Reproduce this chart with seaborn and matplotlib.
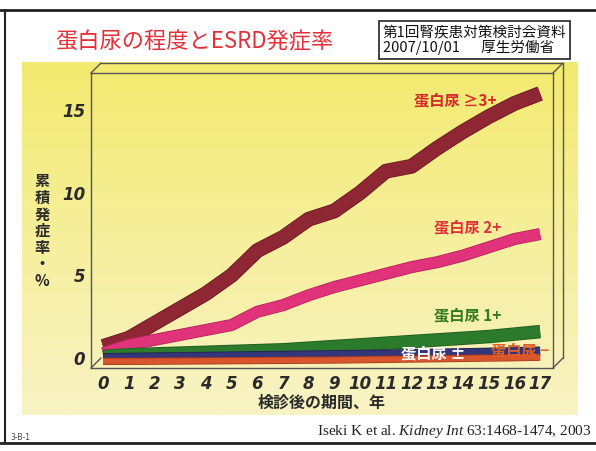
import matplotlib
matplotlib.use('Agg')
import matplotlib.pyplot as plt
from matplotlib.lines import Line2D
import matplotlib.patheffects as pe
import numpy as np
import pandas as pd
import seaborn as sns

# cumulative ESRD incidence (%) by proteinuria grade
years = list(range(18))
ge3 = [0.7, 1.2, 2.1, 3.0, 3.9, 5.0, 6.5, 7.3, 8.4, 8.9, 10.0, 11.3, 11.6, 12.7, 13.7, 14.6, 15.4, 16.0]
p2 = [0.3, 0.8, 1.1, 1.4, 1.7, 2.0, 2.8, 3.2, 3.8, 4.3, 4.7, 5.1, 5.5, 5.8, 6.2, 6.7, 7.2, 7.5]
p1 = [0.1, 0.2, 0.25, 0.3, 0.35, 0.4, 0.45, 0.5, 0.6, 0.7, 0.8, 0.9, 1.0, 1.1, 1.2, 1.3, 1.45, 1.6]
pm = [0.0, 0.02, 0.04, 0.06, 0.08, 0.1, 0.12, 0.14, 0.16, 0.18, 0.2, 0.22, 0.25, 0.28, 0.3, 0.33, 0.36, 0.4]
neg = [-0.2, -0.2, -0.19, -0.18, -0.17, -0.16, -0.15, -0.14, -0.13, -0.12, -0.1, -0.08, -0.06, -0.04, -0.02, 0.0, 0.02, 0.05]

groups = ['≥3+', '2+', '1+', '±', '−']
colors = {'≥3+': '#8e2733', '2+': '#e0337a', '1+': '#2c7a2c', '±': '#34357a', '−': '#d9562c'}
edges = {'≥3+': '#6a1824', '2+': '#b82060', '1+': '#1d5a1d', '±': '#22234f', '−': '#a83a18'}
widths = {'≥3+': 9.5, '2+': 7.5, '1+': 8.5, '±': 6, '−': 4}

rows = []
for g, vals in zip(groups, [ge3, p2, p1, pm, neg]):
    for yr, v in zip(years, vals):
        rows.append({'year': yr, 'rate': v, 'grade': g})
df = pd.DataFrame(rows)

sns.set_style('white')
plt.rcParams['font.family'] = ['Noto Sans CJK JP', 'DejaVu Sans']

W, H = 596, 451
fig = plt.figure(figsize=(W / 100, H / 100), dpi=100)
fig.patch.set_facecolor('white')

def fx(x):
    return x / W

def fy(y):
    return 1 - y / H

# yellow background panel
bg = fig.add_axes([fx(22), fy(415), fx(578) - fx(22), fy(62) - fy(415)])
grad = np.linspace(0, 1, 256).reshape(-1, 1)
cmap = matplotlib.colors.LinearSegmentedColormap.from_list('yl', ['#f2ea6e', '#f6ef9c', '#f8f3c4'])
bg.imshow(grad, aspect='auto', cmap=cmap, extent=[0, 1, 0, 1], origin='upper')
bg.set_axis_off()

ax = fig.add_axes([fx(91), fy(368), fx(553) - fx(91), fy(73) - fy(368)])
ax.patch.set_alpha(0)
sns.lineplot(data=df, x='year', y='rate', hue='grade', hue_order=groups,
             palette=colors, ax=ax, legend=False, sort=False)
for line, g in zip(ax.get_lines(), groups):
    line.set_linewidth(widths[g])
    line.set_solid_capstyle('butt')
    line.set_solid_joinstyle('round')
    line.set_path_effects([pe.Stroke(linewidth=widths[g] + 1.2, foreground=edges[g]), pe.Normal()])

ax.set_xlim(-0.47, 17.5)
ax.set_ylim(-0.6, 17.24)
ax.set_xticks(years)
ax.set_yticks([0, 5, 10, 15])
ax.set_xticklabels([str(y) for y in years], family='DejaVu Sans', fontweight='bold',
                   style='italic', fontsize=12, color='#2a2a2a')
ax.set_yticklabels(['0', '5', '10', '15'], family='DejaVu Sans', fontweight='bold',
                   style='italic', fontsize=12, color='#2a2a2a')
ax.tick_params(axis='both', direction='out', length=3, width=0.8, color='#444444')
ax.tick_params(axis='x', pad=2)
ax.tick_params(axis='y', pad=1)
for s in ax.spines.values():
    s.set_color('#555555')
    s.set_linewidth(1.0)
ax.set_xlabel('検診後の期間、年', fontsize=11.5, fontweight='bold', color='#2a2a2a', labelpad=1)
ax.set_ylabel('')

# 3D box back edges
box = [((91, 73), (101, 63)), ((101, 63), (563, 63)), ((553, 73), (563, 63)),
       ((563, 63), (563, 358)), ((553, 368), (563, 358)), ((91, 368), (101, 358))]
for (x0, y0), (x1, y1) in box:
    fig.add_artist(Line2D([fx(x0), fx(x1)], [fy(y0), fy(y1)], color='#555555', lw=1.0))

# vertical y label
fig.text(fx(42), fy(231), '\n'.join('累積発症率・%'), fontsize=11, fontweight='bold',
         color='#2a2a2a', ha='center', va='center', linespacing=1.05)

# series labels
lab = dict(fontsize=11, fontweight='bold')
ax.text(15.3, 15.6, '蛋白尿 ≥3+', color='#d42a2a', ha='right', va='center', **lab)
ax.text(15.5, 7.9, '蛋白尿 2+', color='#e2303a', ha='right', va='center', **lab)
ax.text(15.5, 2.6, '蛋白尿 1+', color='#2f7a1f', ha='right', va='center', **lab)
ax.text(11.6, 0.3, '蛋白尿 ±', color='white', ha='left', va='center', **lab)
ax.text(15.1, 0.45, '蛋白尿 −', color='#e0602a', ha='left', va='center', **lab)

# title and source box
fig.text(fx(55), fy(42), '蛋白尿の程度とESRD発症率', fontsize=16, color='#e53039',
         ha='left', va='center')
fig.text(fx(383), fy(40), '第1回腎疾患対策検討会資料\n2007/10/01　  厚生労働省', fontsize=10.5,
         color='#111111', ha='left', va='center', linespacing=1.05,
         bbox=dict(boxstyle='square,pad=0.25', facecolor='white', edgecolor='#222222', lw=1.2))

plt.rcParams['mathtext.fontset'] = 'custom'
plt.rcParams['mathtext.it'] = 'Liberation Serif:italic'
plt.rcParams['mathtext.rm'] = 'Liberation Serif'
fig.text(fx(592), fy(431), r'Iseki K et al. $\mathit{Kidney\ Int}$ 63:1468-1474, 2003',
         family='Liberation Serif', fontsize=11, color='#222222', ha='right', va='center')
fig.text(fx(10), fy(437), '3-B-1', family='DejaVu Sans', fontsize=5.5, color='#444444',
         ha='left', va='center')

# page frame
fig.add_artist(Line2D([0, 1], [fy(10), fy(10)], color='#222222', lw=2.0))
fig.add_artist(Line2D([0, 1], [fy(443), fy(443)], color='#222222', lw=2.0))
fig.add_artist(Line2D([fx(5), fx(5)], [fy(10), fy(443)], color='#222222', lw=1.5))

fig.savefig('out.png', dpi=100)
